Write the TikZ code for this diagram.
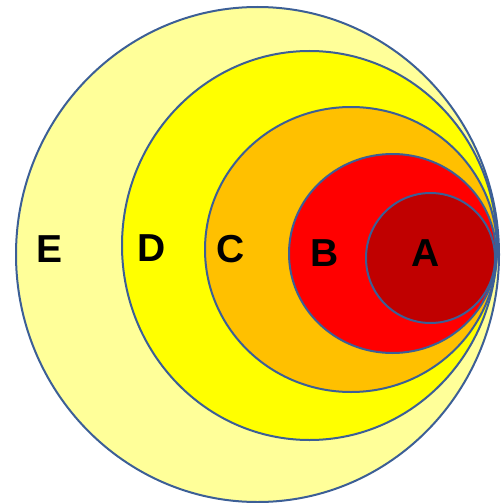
\documentclass[tikz,border=0pt]{standalone}
\usepackage{fontspec}
\setmainfont{Liberation Sans}
\definecolor{ringline}{RGB}{60,95,150}
\definecolor{fillE}{RGB}{255,255,153}
\definecolor{fillD}{RGB}{255,255,0}
\definecolor{fillC}{RGB}{255,192,0}
\definecolor{fillB}{RGB}{255,0,0}
\definecolor{fillA}{RGB}{192,0,0}
\tikzset{
  ring/.style={draw=ringline, line width=2pt},
  lbl/.style={font=\fontsize{39}{42}\selectfont\bfseries, text=black, inner sep=0pt}
}
\begin{document}
\begin{tikzpicture}[x=1pt,y=-1pt]
\useasboundingbox (0,0) rectangle (501,503);
\draw[ring, fill=fillE] (257.5,254.5) ellipse [x radius=241.5, y radius=247.5];
\draw[ring, fill=fillD] (309.5,245.5) ellipse [x radius=187.5, y radius=194.5];
\draw[ring, fill=fillC] (351,249.5) ellipse [x radius=146, y radius=142.5];
\draw[ring, fill=fillB] (392.5,253.5) ellipse [x radius=103.5, y radius=99.5];
\draw[ring, fill=fillA] (430.5,258) ellipse [x radius=64.5, y radius=65];
\node[lbl] (E) at (50,249) {E};
\node[lbl] (D) at (152,248) {D};
\node[lbl] (C) at (230.5,249.5) {C};
\node[lbl] (B) at (325,253) {B};
\node[lbl] (A) at (425.5,253) {A};
\end{tikzpicture}
\end{document}
